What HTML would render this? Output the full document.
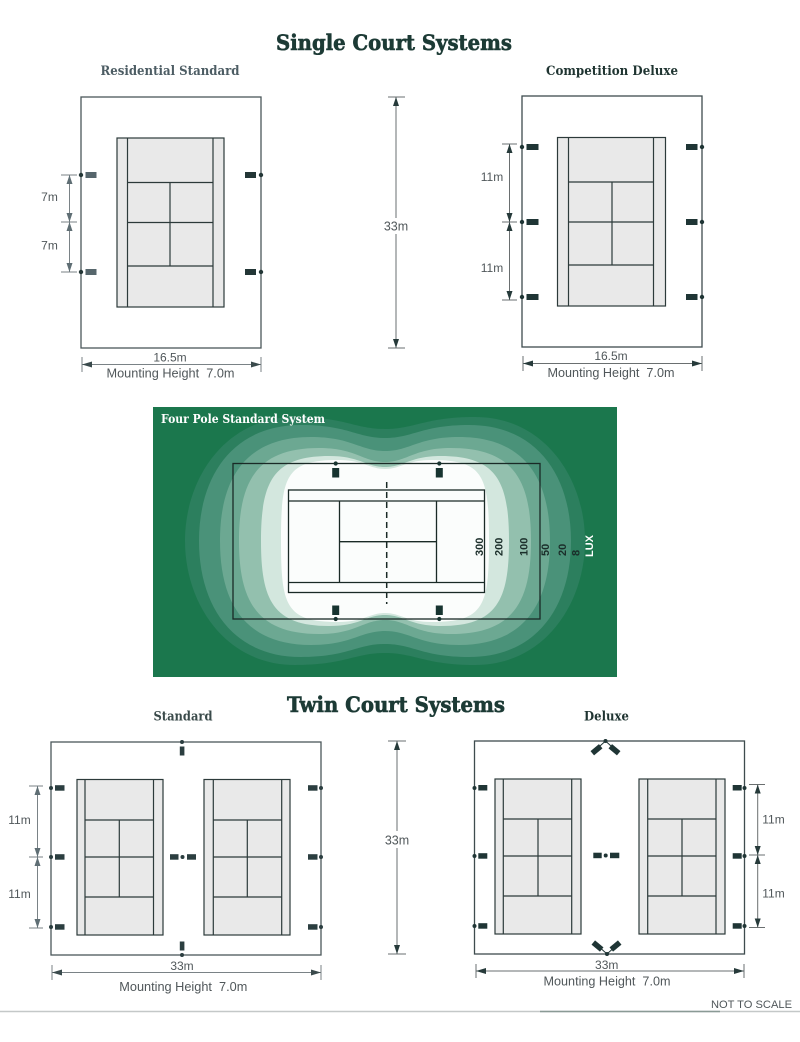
<!DOCTYPE html>
<html>
<head>
<meta charset="utf-8">
<style>
html,body{margin:0;padding:0;background:#fff;}
body{width:800px;height:1042px;overflow:hidden;}
svg{display:block;}
.ttl{font-family:"DejaVu Serif","Liberation Serif",serif;font-weight:bold;}
.dim{font-family:"Liberation Sans",sans-serif;fill:#50575a;}
</style>
</head>
<body>
<svg width="800" height="1042" viewBox="0 0 800 1042" xmlns="http://www.w3.org/2000/svg">
<rect width="800" height="1042" fill="#fff"/>

<!-- ===== Titles ===== -->
<text class="ttl" x="394" y="50" text-anchor="middle" font-size="21" fill="#1c3a35" stroke="#1c3a35" stroke-width="0.6" textLength="236" lengthAdjust="spacingAndGlyphs">Single Court Systems</text>
<text class="ttl" x="170" y="75" text-anchor="middle" font-size="13" fill="#4d5d64" textLength="139" lengthAdjust="spacingAndGlyphs">Residential Standard</text>
<text class="ttl" x="612" y="75" text-anchor="middle" font-size="13" fill="#1f3431" textLength="132" lengthAdjust="spacingAndGlyphs">Competition Deluxe</text>

<!-- ===== Residential Standard ===== -->
<rect x="81" y="97" width="180" height="251" fill="none" stroke="#4b585a" stroke-width="1.3"/>
<rect x="117" y="138" width="107" height="169" fill="#e9e9e9" stroke="#2c3a3a" stroke-width="1.2"/>
<path d="M127.5 138V307M213 138V307M127.5 182.5H213M127.5 266H213M127.5 222.5H213M170 182.5V266" stroke="#2c3a3a" stroke-width="1.2" fill="none"/>
<g fill="#56666c">
<rect x="85.5" y="172" width="11" height="6"/>
<rect x="85.5" y="269" width="11" height="6"/>
</g>
<g fill="#233636">
<rect x="245" y="172" width="11" height="6"/>
<rect x="245" y="269" width="11" height="6"/>
<circle cx="81" cy="175" r="2.2"/><circle cx="81" cy="272" r="2.2"/>
<circle cx="261" cy="175" r="2.2"/><circle cx="261" cy="272" r="2.2"/>
</g>
<path d="M69.5 175V272M61 175H77M61 222H77M61 272H77" stroke="#7a8286" stroke-width="1" fill="none"/>
<g fill="#5f6e74">
<polygon points="69.5,175 66.5,184 72.5,184"/>
<polygon points="69.5,222 66.5,213 72.5,213"/>
<polygon points="69.5,222 66.5,231 72.5,231"/>
<polygon points="69.5,272 66.5,263 72.5,263"/>
</g>
<text class="dim" x="49.5" y="201" text-anchor="middle" font-size="12" fill="#6a7074">7m</text>
<text class="dim" x="49.5" y="249.5" text-anchor="middle" font-size="12" fill="#6a7074">7m</text>
<path d="M82 364.5H261M82 357V372M261 357V372" stroke="#7a8286" stroke-width="1" fill="none"/>
<g fill="#3a4a4c">
<polygon points="82,364.5 92,361.5 92,367.5"/>
<polygon points="261,364.5 251,361.5 251,367.5"/>
</g>
<text class="dim" x="170" y="361.7" text-anchor="middle" font-size="12">16.5m</text>
<text class="dim" x="170.5" y="377.5" text-anchor="middle" font-size="12.5" textLength="128" lengthAdjust="spacingAndGlyphs">Mounting Height&#160; 7.0m</text>

<!-- ===== Center 33m (single) ===== -->
<path d="M396 97V348M388 97H405M388 348H405" stroke="#6a6f70" stroke-width="1" fill="none"/>
<g fill="#263a3a">
<polygon points="396,97 393,106 399,106"/>
<polygon points="396,348 393,339 399,339"/>
</g>
<rect x="382" y="218" width="28" height="16" fill="#fff"/>
<text class="dim" x="396" y="230.7" text-anchor="middle" font-size="12.5">33m</text>

<!-- ===== Competition Deluxe ===== -->
<rect x="522" y="96" width="180" height="251" fill="none" stroke="#3e4c4e" stroke-width="1.3"/>
<rect x="557.5" y="137.5" width="108" height="168.5" fill="#e9e9e9" stroke="#2c3a3a" stroke-width="1.2"/>
<path d="M568.5 137.5V306M653.5 137.5V306M568.5 182H653.5M568.5 265H653.5M568.5 222H653.5M612 182V265" stroke="#2c3a3a" stroke-width="1.2" fill="none"/>
<g fill="#1f3535">
<rect x="526.5" y="144" width="12" height="6"/>
<rect x="526.5" y="219" width="12" height="6"/>
<rect x="526.5" y="294" width="12" height="6"/>
<rect x="686" y="144" width="11.5" height="6"/>
<rect x="686" y="219" width="11.5" height="6"/>
<rect x="686" y="294" width="11.5" height="6"/>
<circle cx="522" cy="147" r="2.2"/><circle cx="522" cy="222" r="2.2"/><circle cx="522" cy="297" r="2.2"/>
<circle cx="702" cy="147" r="2.2"/><circle cx="702" cy="222" r="2.2"/><circle cx="702" cy="297" r="2.2"/>
</g>
<path d="M509.5 144V300M502 144H517M502 222H517M502 300H517" stroke="#6a6f70" stroke-width="1" fill="none"/>
<g fill="#263a3a">
<polygon points="509.5,144 506.5,153 512.5,153"/>
<polygon points="509.5,222 506.5,213 512.5,213"/>
<polygon points="509.5,222 506.5,231 512.5,231"/>
<polygon points="509.5,300 506.5,291 512.5,291"/>
</g>
<text class="dim" x="492" y="181" text-anchor="middle" font-size="12">11m</text>
<text class="dim" x="492" y="272" text-anchor="middle" font-size="12">11m</text>
<path d="M523 363.5H702M523 356V371M702 356V371" stroke="#6a6f70" stroke-width="1" fill="none"/>
<g fill="#263a3a">
<polygon points="523,363.5 533,360.5 533,366.5"/>
<polygon points="702,363.5 692,360.5 692,366.5"/>
</g>
<text class="dim" x="611" y="360" text-anchor="middle" font-size="12">16.5m</text>
<text class="dim" x="611" y="377" text-anchor="middle" font-size="12.5" textLength="127" lengthAdjust="spacingAndGlyphs">Mounting Height&#160; 7.0m</text>

<!-- ===== Four Pole Standard System ===== -->
<rect x="153" y="407" width="464" height="270" fill="#1b774d"/>
<path fill="#2c7f5e" d="M185,541 C185,479 225,417 295,417 C345,417 355,429 385,429 C415,429 425,417 475,417 C545,417 585,479 585,541 C585,603 545,665 475,665 C425,665 415,653 385,653 C355,653 345,665 295,665 C225,665 185,603 185,541Z"/>
<path fill="#4a9279" d="M199,541 C199,477 232,425 301,425 C348,425 357,438 385,438 C413,438 422,425 469,425 C538,425 571,477 571,541 C571,605 538,657 469,657 C422,657 413,644 385,644 C357,644 348,657 301,657 C232,657 199,605 199,541Z"/>
<path fill="#6ca892" d="M220,541 C220,479 245,437 311,437 C352,437 360,451 385,451 C410,451 418,437 459,437 C525,437 550,479 550,541 C550,603 525,645 459,645 C418,645 410,631 385,631 C360,631 352,645 311,645 C245,645 220,603 220,541Z"/>
<path fill="#93c0ae" d="M239,541 C239,481 257,448 319,448 C356,448 363,462 385,462 C407,462 414,448 451,448 C514,448 531,481 531,541 C531,601 514,634 451,634 C414,634 407,620 385,620 C363,620 356,634 319,634 C257,634 239,601 239,541Z"/>
<path fill="#d3e7de" d="M261,541 C261,482 273,456 329,456 C360,456 366,467 385,467 C404,467 410,456 441,456 C497,456 509,482 509,541 C509,600 497,626 441,626 C410,626 404,615 385,615 C366,615 360,626 329,626 C273,626 261,600 261,541Z"/>
<path fill="#fbfdfc" d="M281,541 C281,476 286,460 338,460 C364,460 369,469 385,469 C401,469 406,460 432,460 C484,460 489,476 489,541 C489,606 484,622 432,622 C406,622 401,613 385,613 C369,613 364,622 338,622 C286,622 281,606 281,541Z"/>
<rect x="233" y="463.5" width="307" height="155.5" fill="none" stroke="#1a2a26" stroke-width="1.3"/>
<rect x="288.5" y="490" width="196" height="102.5" fill="none" stroke="#1a2a26" stroke-width="1.3"/>
<path d="M288.5 501H484.5M288.5 582.5H484.5M339.5 501V582.5M436.5 501V582.5M339.5 541.7H436.5" stroke="#1a2a26" stroke-width="1.3" fill="none"/>
<path d="M386.7 482V604" stroke="#1a2a26" stroke-width="1.5" stroke-dasharray="6,4" fill="none"/>
<g fill="#173430">
<rect x="332.2" y="468" width="7" height="9.5"/>
<rect x="435.8" y="468" width="7" height="9.5"/>
<rect x="332.2" y="605.5" width="7" height="9.5"/>
<rect x="435.8" y="605.5" width="7" height="9.5"/>
<circle cx="335.7" cy="463.5" r="2.1"/><circle cx="439.3" cy="463.5" r="2.1"/>
<circle cx="335.7" cy="619" r="2.1"/><circle cx="439.3" cy="619" r="2.1"/>
</g>
<text class="ttl" x="161" y="423" font-size="12" fill="#ffffff" textLength="164" lengthAdjust="spacingAndGlyphs">Four Pole Standard System</text>
<g font-family="Liberation Sans, sans-serif" font-weight="bold" font-size="11" fill="#1b2e2a">
<text transform="translate(483,556) rotate(-90)">300</text>
<text transform="translate(502.5,556) rotate(-90)">200</text>
<text transform="translate(527.5,556) rotate(-90)">100</text>
<text transform="translate(549,556) rotate(-90)">50</text>
<text transform="translate(566,556) rotate(-90)">20</text>
<text transform="translate(579.5,556) rotate(-90)">8</text>
<text transform="translate(593,557) rotate(-90)" fill="#ffffff">LUX</text>
</g>

<!-- ===== Twin Court Systems ===== -->
<text class="ttl" x="396" y="712" text-anchor="middle" font-size="21" fill="#1c3a35" stroke="#1c3a35" stroke-width="0.6" textLength="218" lengthAdjust="spacingAndGlyphs">Twin Court Systems</text>
<text class="ttl" x="183" y="720.5" text-anchor="middle" font-size="13" fill="#3a4a4a" textLength="59" lengthAdjust="spacingAndGlyphs">Standard</text>
<text class="ttl" x="606.5" y="720.5" text-anchor="middle" font-size="13" fill="#1f3431" textLength="45" lengthAdjust="spacingAndGlyphs">Deluxe</text>

<!-- Twin Standard -->
<rect x="51" y="742" width="270" height="213" fill="none" stroke="#4b585a" stroke-width="1.3"/>
<rect x="77" y="779.5" width="86" height="155.5" fill="#e9e9e9" stroke="#2c3a3a" stroke-width="1.2"/>
<path d="M85 779.5V935M153.5 779.5V935M85 820H153.5M85 897H153.5M85 857H153.5M119.3 820V897" stroke="#2c3a3a" stroke-width="1.2" fill="none"/>
<rect x="204" y="779.5" width="86" height="155.5" fill="#e9e9e9" stroke="#2c3a3a" stroke-width="1.2"/>
<path d="M213.3 779.5V935M281.7 779.5V935M213.3 820H281.7M213.3 897H281.7M213.3 857H281.7M247.3 820V897" stroke="#2c3a3a" stroke-width="1.2" fill="none"/>
<g fill="#2b3e40">
<rect x="55" y="785.2" width="9.5" height="5.5"/>
<rect x="55" y="854.2" width="9.5" height="5.5"/>
<rect x="55" y="924.2" width="9.5" height="5.5"/>
<rect x="308" y="785.2" width="9.5" height="5.5"/>
<rect x="308" y="854.2" width="9.5" height="5.5"/>
<rect x="308" y="924.2" width="9.5" height="5.5"/>
<rect x="179.8" y="746.5" width="4.6" height="9"/>
<rect x="179.8" y="941.5" width="4.6" height="9"/>
<rect x="170" y="854.2" width="8.5" height="5.5"/>
<rect x="187" y="854.2" width="9" height="5.5"/>
<circle cx="51" cy="788" r="2"/><circle cx="51" cy="857" r="2"/><circle cx="51" cy="927" r="2"/>
<circle cx="321" cy="788" r="2"/><circle cx="321" cy="857" r="2"/><circle cx="321" cy="927" r="2"/>
<circle cx="182" cy="742" r="2"/><circle cx="182" cy="955" r="2"/><circle cx="182.5" cy="857" r="2"/>
</g>
<path d="M37.5 786V928M29 786H43M29 857H43M29 928H43" stroke="#7a8286" stroke-width="1" fill="none"/>
<g fill="#5f6e74">
<polygon points="37.5,786 34.5,795 40.5,795"/>
<polygon points="37.5,857 34.5,848 40.5,848"/>
<polygon points="37.5,857 34.5,866 40.5,866"/>
<polygon points="37.5,928 34.5,919 40.5,919"/>
</g>
<text class="dim" x="19.5" y="824" text-anchor="middle" font-size="12">11m</text>
<text class="dim" x="19.5" y="898" text-anchor="middle" font-size="12">11m</text>
<path d="M52 972.5H321M52 965V980M321 965V980" stroke="#7a8286" stroke-width="1" fill="none"/>
<g fill="#3a4a4c">
<polygon points="52,972.5 62,969.5 62,975.5"/>
<polygon points="321,972.5 311,969.5 311,975.5"/>
</g>
<text class="dim" x="182" y="970" text-anchor="middle" font-size="12">33m</text>
<text class="dim" x="183.3" y="991" text-anchor="middle" font-size="12.5" textLength="128" lengthAdjust="spacingAndGlyphs">Mounting Height&#160; 7.0m</text>

<!-- Twin center 33m -->
<path d="M397 741V954M388 741H406M388 954H406" stroke="#6a6f70" stroke-width="1" fill="none"/>
<g fill="#263a3a">
<polygon points="397,741 394,750 400,750"/>
<polygon points="397,954 394,945 400,945"/>
</g>
<rect x="383" y="831" width="28" height="17" fill="#fff"/>
<text class="dim" x="397" y="844.5" text-anchor="middle" font-size="12.5">33m</text>

<!-- Twin Deluxe -->
<rect x="474.5" y="741" width="270" height="213" fill="none" stroke="#3e4c4e" stroke-width="1.3"/>
<rect x="495" y="779" width="86" height="155" fill="#e9e9e9" stroke="#2c3a3a" stroke-width="1.2"/>
<path d="M503.3 779V934M571.7 779V934M503.3 819H571.7M503.3 896H571.7M503.3 856H571.7M538 819V896" stroke="#2c3a3a" stroke-width="1.2" fill="none"/>
<rect x="639" y="779" width="86" height="155" fill="#e9e9e9" stroke="#2c3a3a" stroke-width="1.2"/>
<path d="M647.7 779V934M716 779V934M647.7 819H716M647.7 896H716M647.7 856H716M682 819V896" stroke="#2c3a3a" stroke-width="1.2" fill="none"/>
<g fill="#1f3535">
<rect x="478.3" y="785" width="9" height="5.5"/>
<rect x="478.3" y="853.2" width="9" height="5.5"/>
<rect x="478.3" y="923.2" width="9" height="5.5"/>
<rect x="732.7" y="785" width="9" height="5.5"/>
<rect x="732.7" y="853.2" width="9" height="5.5"/>
<rect x="732.7" y="923.2" width="9" height="5.5"/>
<rect x="593.3" y="852.7" width="8.4" height="5.5"/>
<rect x="610" y="852.7" width="9.3" height="5.5"/>
<circle cx="474.5" cy="788" r="2"/><circle cx="474.5" cy="856" r="2"/><circle cx="474.5" cy="926" r="2"/>
<circle cx="744.5" cy="788" r="2"/><circle cx="744.5" cy="856" r="2"/><circle cx="744.5" cy="926" r="2"/>
<circle cx="605.7" cy="855.5" r="2"/>
<circle cx="605.5" cy="741" r="2"/><circle cx="607" cy="954" r="2"/>
<rect x="591" y="747" width="11" height="5.5" transform="rotate(-40 596.5 749.75)"/>
<rect x="609" y="747" width="11" height="5.5" transform="rotate(40 614.5 749.75)"/>
<rect x="592" y="943.25" width="11" height="5.5" transform="rotate(40 597.5 946)"/>
<rect x="610" y="943.25" width="11" height="5.5" transform="rotate(-40 615.5 946)"/>
</g>
<path d="M605.5 741L600 746M605.5 741L611 746M607 954L601.5 949M607 954L612.5 949" stroke="#1f3535" stroke-width="1" fill="none"/>
<path d="M757.7 784.5V927.5M749 784.5H765M749 855H765M749 927.5H765" stroke="#6a6f70" stroke-width="1" fill="none"/>
<g fill="#263a3a">
<polygon points="757.7,784.5 754.7,793.5 760.7,793.5"/>
<polygon points="757.7,855 754.7,846 760.7,846"/>
<polygon points="757.7,855 754.7,864 760.7,864"/>
<polygon points="757.7,927.5 754.7,918.5 760.7,918.5"/>
</g>
<text class="dim" x="773.5" y="823.5" text-anchor="middle" font-size="12">11m</text>
<text class="dim" x="773.5" y="897.5" text-anchor="middle" font-size="12">11m</text>
<path d="M476 971H744M476 964V978M744 964V978" stroke="#6a6f70" stroke-width="1" fill="none"/>
<g fill="#263a3a">
<polygon points="476,971 486,968 486,974"/>
<polygon points="744,971 734,968 734,974"/>
</g>
<text class="dim" x="606.7" y="969" text-anchor="middle" font-size="12">33m</text>
<text class="dim" x="607" y="985.5" text-anchor="middle" font-size="12.5" textLength="127" lengthAdjust="spacingAndGlyphs">Mounting Height&#160; 7.0m</text>

<!-- Footer -->
<text class="dim" x="792" y="1008" text-anchor="end" font-size="11" textLength="81" lengthAdjust="spacingAndGlyphs">NOT TO SCALE</text>
<path d="M0 1011.5H800" stroke="#c4c8c8" stroke-width="1.5"/>
<path d="M540 1011.5H720" stroke="#8a9a95" stroke-width="1.5"/>
</svg>
</body>
</html>
